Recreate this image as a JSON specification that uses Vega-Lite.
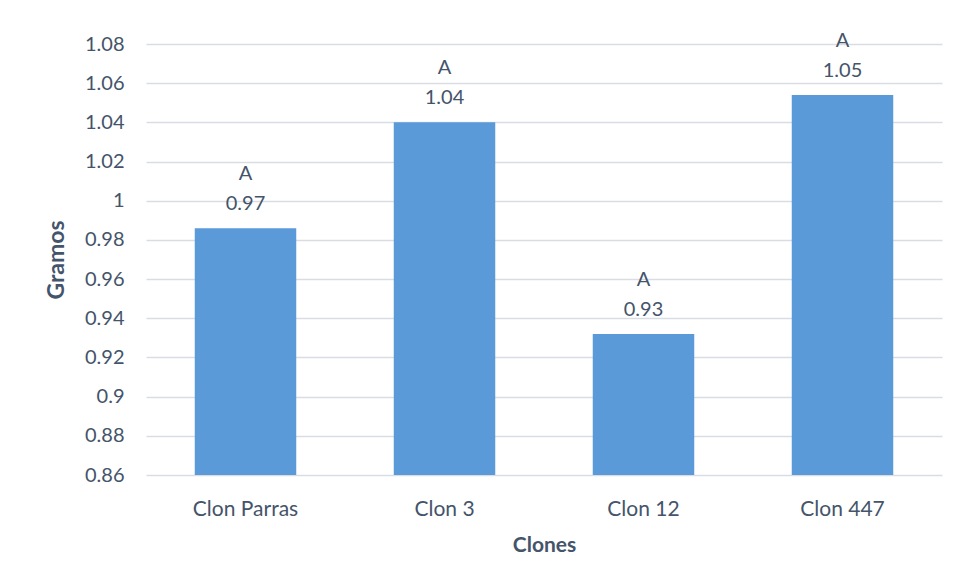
{
  "$schema": "https://vega.github.io/schema/vega-lite/v6.json",
  "width": 796,
  "height": 431,
  "autosize": {"type": "none"},
  "padding": {"left": 146, "top": 44, "right": 14, "bottom": 110},
  "background": "white",
  "config": {
    "view": {"stroke": null},
    "font": "Lato",
    "axis": {"labelFont": "Lato", "titleFont": "Lato", "labelColor": "#44546a", "titleColor": "#44546a"}
  },
  "data": {
    "values": [
      {"clon": "Clon Parras", "gramos": 0.986, "letra": "A", "etiqueta": "0.97"},
      {"clon": "Clon 3", "gramos": 1.040, "letra": "A", "etiqueta": "1.04"},
      {"clon": "Clon 12", "gramos": 0.932, "letra": "A", "etiqueta": "0.93"},
      {"clon": "Clon 447", "gramos": 1.054, "letra": "A", "etiqueta": "1.05"}
    ]
  },
  "encoding": {
    "x": {
      "field": "clon", "type": "nominal", "sort": null,
      "scale": {"paddingInner": 0.49, "paddingOuter": 0.245},
      "axis": {"title": "Clones", "labelAngle": 0, "labelFontSize": 21, "titleFontSize": 21, "titleFontWeight": "bold", "domain": false, "ticks": false, "labelPadding": 23, "titlePadding": 15}
    },
    "y": {
      "field": "gramos", "type": "quantitative",
      "scale": {"domain": [0.86, 1.08], "nice": false, "zero": false},
      "axis": {"title": "Gramos", "values": [0.86, 0.88, 0.9, 0.92, 0.94, 0.96, 0.98, 1, 1.02, 1.04, 1.06, 1.08], "format": ".2~f", "labelFontSize": 20, "titleFontSize": 23, "titleFontWeight": "bold", "domain": false, "ticks": false, "labelPadding": 22, "titlePadding": 16, "gridColor": "#d9dde3", "gridWidth": 1.5}
    }
  },
  "layer": [
    {
      "mark": {"type": "bar", "clip": true, "color": "#5a9ad9"}
    },
    {
      "mark": {"type": "text", "baseline": "middle", "dy": -24, "fontSize": 20, "color": "#44546a"},
      "encoding": {"text": {"field": "etiqueta"}}
    },
    {
      "mark": {"type": "text", "baseline": "middle", "dy": -54, "fontSize": 20, "color": "#44546a"},
      "encoding": {"text": {"field": "letra"}}
    }
  ]
}
